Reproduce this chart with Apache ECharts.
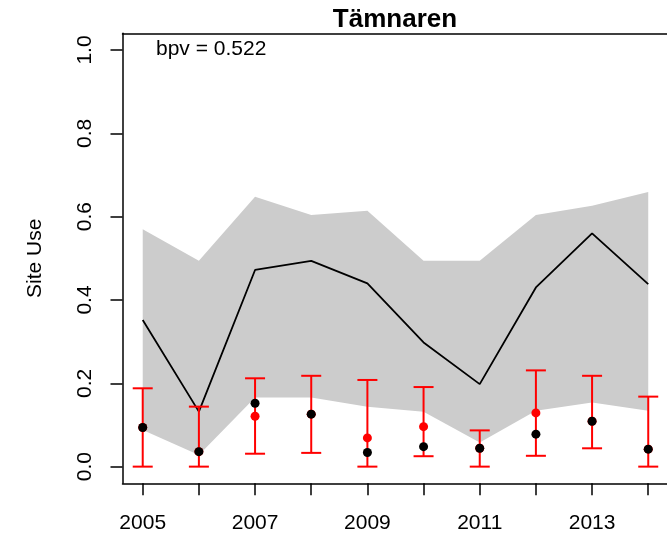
<!DOCTYPE html>
<html>
<head>
<meta charset="utf-8">
<script src="https://cdn.jsdelivr.net/npm/echarts@6/dist/echarts.min.js"></script>
<style>html,body{margin:0;padding:0;background:#fff}#c{width:667px;height:534px}</style>
</head>
<body>
<div id="c"></div>
<script>
const years = [2005, 2006, 2007, 2008, 2009, 2010, 2011, 2012, 2013, 2014];
const xTickLabels = [2005, 2007, 2009, 2011, 2013];
const yTicks = [0, 0.2, 0.4, 0.6, 0.8, 1.0];
const bandLow = [0.088, 0.028, 0.166, 0.166, 0.144, 0.132, 0.058, 0.134, 0.154, 0.134];
const bandHigh = [0.570, 0.494, 0.648, 0.604, 0.614, 0.494, 0.494, 0.604, 0.626, 0.659];
const meanLine = [0.352, 0.132, 0.472, 0.494, 0.440, 0.298, 0.198, 0.430, 0.560, 0.438];
const errLow = [0, 0, 0.031, 0.033, 0, 0.025, 0, 0.026, 0.044, 0];
const errHigh = [0.188, 0.144, 0.212, 0.218, 0.208, 0.191, 0.087, 0.231, 0.218, 0.168];
const redPts = [0.094, 0.036, 0.121, 0.126, 0.069, 0.096, 0.044, 0.129, 0.109, 0.042];
const blackPts = [0.094, 0.036, 0.152, 0.126, 0.034, 0.048, 0.044, 0.078, 0.109, 0.042];
const titleText = 'Tämnaren';
const yName = 'Site Use';
const bpvText = 'bpv = 0.522';

const FONT = "'Liberation Sans', Arial, Helvetica, sans-serif";
const chart = echarts.init(document.getElementById('c'), null, {renderer: 'canvas'});
const XMIN = 2004.64, XMAX = 2014.334;
const axisLineStyle = {color: '#000', width: 1.5};

const option = {
  animation: false,
  backgroundColor: '#fff',
  grid: {left: 122.5, top: 33.3, right: 0, height: 450, show: false},
  xAxis: [{
    type: 'value', min: XMIN, max: XMAX, position: 'bottom',
    axisLine: {show: true, onZero: false, lineStyle: axisLineStyle},
    splitLine: {show: false},
    axisTick: {show: true, inside: false, length: 12, customValues: years, lineStyle: axisLineStyle},
    axisLabel: {customValues: xTickLabels, margin: 29, fontSize: 21, fontFamily: FONT, color: '#000', formatter: v => String(v)}
  }, {
    type: 'value', min: XMIN, max: XMAX, position: 'top',
    axisLine: {show: true, onZero: false, lineStyle: axisLineStyle},
    splitLine: {show: false}, axisTick: {show: false}, axisLabel: {show: false}
  }],
  yAxis: {
    type: 'value', min: -0.04, max: 1.04,
    axisLine: {show: true, onZero: false, lineStyle: axisLineStyle},
    splitLine: {show: false},
    axisTick: {show: true, inside: false, length: 12, customValues: yTicks, lineStyle: axisLineStyle},
    axisLabel: {customValues: yTicks, rotate: 90, margin: 27, fontSize: 21, fontFamily: FONT, color: '#000', formatter: v => v.toFixed(1)}
  },
  graphic: [
    {type: 'text', x: 395, y: 20, style: {text: titleText, font: "bold 26px " + FONT, fill: '#000', textAlign: 'center', textVerticalAlign: 'middle'}},
    {type: 'text', x: 156, y: 49, style: {text: bpvText, font: "21px " + FONT, fill: '#000', textAlign: 'left', textVerticalAlign: 'middle'}},
    {type: 'text', x: 35.5, y: 258.3, rotation: Math.PI / 2, style: {text: yName, font: "21px " + FONT, fill: '#000', textAlign: 'center', textVerticalAlign: 'middle'}}
  ],
  series: [
    {
      type: 'custom', z: 1, silent: true,
      data: [[years[0], bandLow[0]]],
      renderItem: function (params, api) {
        const pts = [];
        for (let i = 0; i < years.length; i++) pts.push(api.coord([years[i], bandHigh[i]]));
        for (let i = years.length - 1; i >= 0; i--) pts.push(api.coord([years[i], bandLow[i]]));
        return {type: 'polygon', shape: {points: pts}, style: {fill: '#cccccc', stroke: null}};
      }
    },
    {
      type: 'line', z: 2, silent: true, symbol: 'none',
      data: years.map((y, i) => [y, meanLine[i]]),
      lineStyle: {color: '#000', width: 1.8}
    },
    {
      type: 'custom', z: 3, silent: true,
      data: years.map((y, i) => [y, errLow[i], errHigh[i]]),
      renderItem: function (params, api) {
        const x = api.value(0);
        const lo = api.coord([x, api.value(1)]);
        const hi = api.coord([x, api.value(2)]);
        const hw = 10;
        const st = {stroke: '#ff0000', lineWidth: 2};
        return {type: 'group', children: [
          {type: 'line', shape: {x1: lo[0], y1: lo[1], x2: hi[0], y2: hi[1]}, style: st},
          {type: 'line', shape: {x1: lo[0] - hw, y1: lo[1], x2: lo[0] + hw, y2: lo[1]}, style: st},
          {type: 'line', shape: {x1: hi[0] - hw, y1: hi[1], x2: hi[0] + hw, y2: hi[1]}, style: st}
        ]};
      }
    },
    {
      type: 'scatter', z: 4, silent: true, symbol: 'circle', symbolSize: 9,
      data: years.map((y, i) => [y, redPts[i]]),
      itemStyle: {color: '#ff0000', opacity: 1}
    },
    {
      type: 'scatter', z: 5, silent: true, symbol: 'circle', symbolSize: 9,
      data: years.map((y, i) => [y, blackPts[i]]),
      itemStyle: {color: '#000', opacity: 1}
    }
  ]
};
chart.setOption(option);
</script>
</body>
</html>
